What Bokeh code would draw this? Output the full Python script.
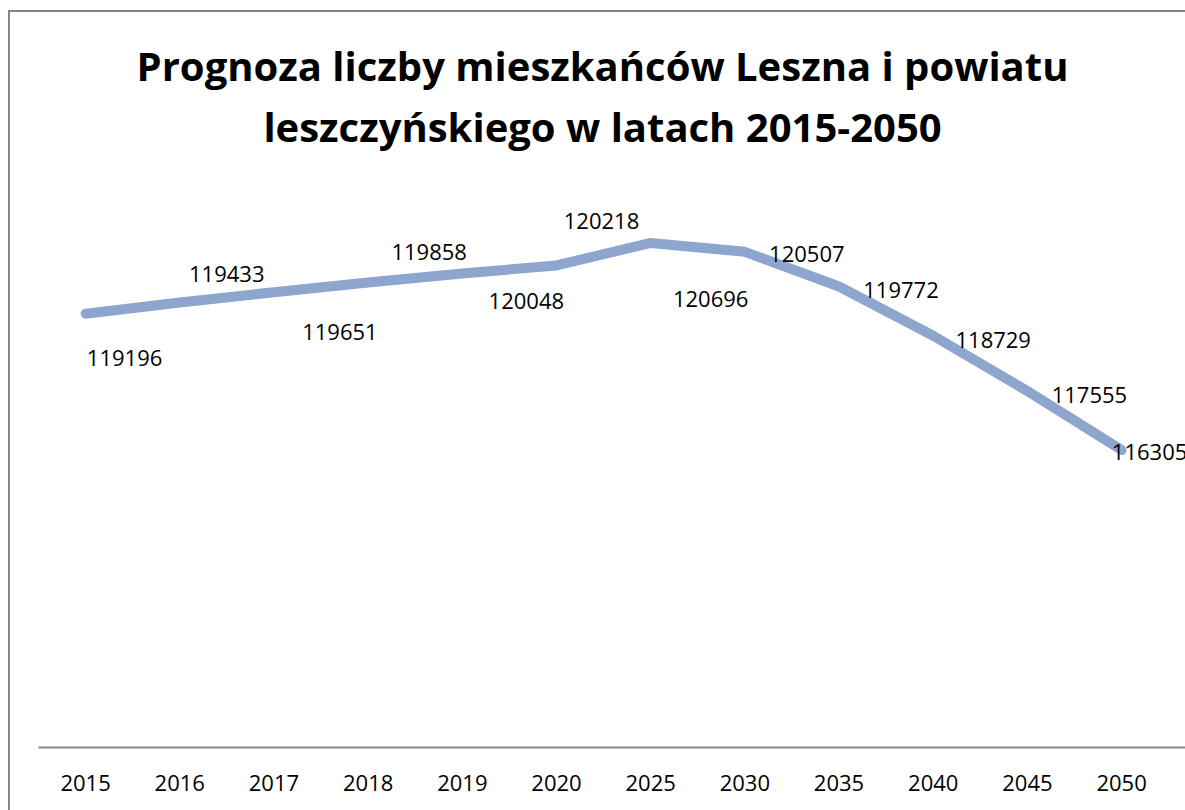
from bokeh.plotting import figure
from bokeh.models import Range1d, FixedTicker, Label, ColumnDataSource
from bokeh.core.properties import value
from bokeh.embed import file_html
from bokeh.resources import INLINE

years = ["2015", "2016", "2017", "2018", "2019", "2020", "2025", "2030", "2035", "2040", "2045", "2050"]
population = [119196, 119433, 119651, 119858, 120048, 120218, 120696, 120507, 119772, 118729, 117555, 116305]
title_lines = ["Prognoza liczby mieszkańców Leszna i powiatu", "leszczyńskiego w latach 2015-2050"]

# label placement offsets (pixels), imitating the original label layout
label_dx = [39, 47, 66, 61, 64, 45, 60, 62, 62, 60, 62, 28]
label_dy = [44, -28, 40, -30, 28, -44, 56, 2, 4, 4, 4, 2]

idx = list(range(len(years)))
src = ColumnDataSource(dict(x=idx, y=population, label=[str(v) for v in population],
                            dx=label_dx, dy=label_dy))

# frame extends to the top of the chart area; the upper part holds the title
p = figure(width=1177, height=800, output_backend="svg", toolbar_location=None,
           x_range=Range1d(-0.5, 11.70), y_range=Range1d(110000, 125580),
           min_border_left=28, min_border_right=0, min_border_top=0, min_border_bottom=65)
p.margin = (10, 0, 0, 8)
p.styles = {"border-left": "2px solid #868686", "border-top": "2px solid #868686"}
p.outline_line_color = None
p.xgrid.visible = False
p.ygrid.visible = False
p.yaxis.visible = False

# title: two centred lines (screen units from the frame's bottom-left corner)
for line_text, px_up in zip(title_lines, [682, 621]):
    p.add_layout(Label(x=564, y=px_up, x_units="screen", y_units="screen",
                       text=line_text, text_align="center", text_baseline="alphabetic",
                       text_font="Open Sans", text_font_size="40px", text_font_style="bold",
                       text_color="#000000"))

ax = p.xaxis[0]
ax.ticker = FixedTicker(ticks=idx)
ax.major_label_overrides = {i: y for i, y in zip(idx, years)}
ax.axis_line_color = "#868686"
ax.axis_line_width = 2
ax.major_tick_line_color = None
ax.minor_tick_line_color = None
ax.major_tick_out = 0
ax.major_label_standoff = 27
ax.major_label_text_font = "Open Sans"
ax.major_label_text_font_size = "22px"
ax.major_label_text_color = "#000000"

p.line(x="x", y="y", source=src, line_color="#8EA6CE", line_width=10,
       line_cap="round", line_join="round")
p.text(x="x", y="y", text="label", source=src, x_offset="dx", y_offset="dy",
       text_align="center", text_baseline="middle", text_font=value("Open Sans"),
       text_font_size="22px", text_color="#000000")

open("out.html", "w").write(file_html(p, INLINE))
